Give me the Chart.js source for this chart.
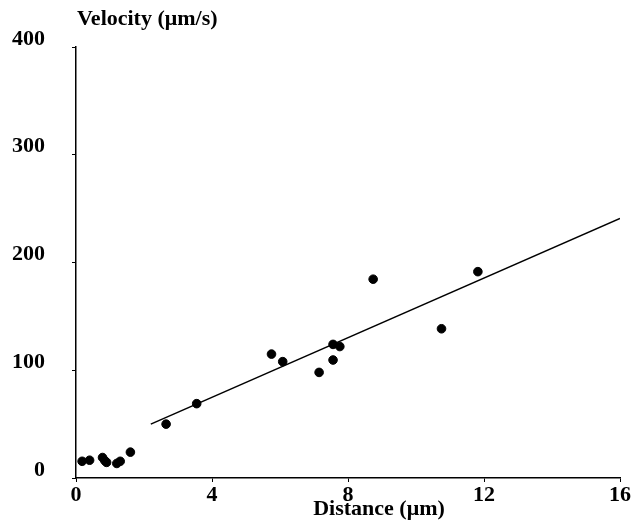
<!DOCTYPE html>
<html>
<head>
<meta charset="utf-8">
<script src="https://cdn.jsdelivr.net/npm/chart.js@4.4.0/dist/chart.umd.min.js"></script>
<style>
  html, body { margin: 0; padding: 0; background: #fff; }
  #wrap { width: 635px; height: 522px; }
</style>
</head>
<body>
<div id="wrap"><canvas id="velocity-chart"></canvas></div>
<script>
// measured points (distance in um, velocity in um/s)
const distance = [0.18, 0.4, 0.78, 0.85, 0.9, 1.2, 1.3, 1.6, 2.65, 3.55, 5.75, 6.08, 7.15, 7.56, 7.56, 7.76, 8.74, 10.75, 11.82];
const velocity = [15.5, 16.5, 19, 16, 14.5, 13.5, 15.5, 24, 50, 69, 115, 108, 98, 124, 109.5, 122, 184.5, 138.5, 191.5];

// fitted line end points
const fitX = [2.2, 16];
const fitY = [50, 241];

const xTicks = [0, 4, 8, 12, 16];
const yTicks = [0, 100, 200, 300, 400];

const FONT = "'Liberation Serif', 'Times New Roman', serif";

// axis titles drawn by hand, the original has them off-centre
const axisTitles = {
  id: "axisTitles",
  afterDraw(chart) {
    const ctx = chart.ctx;
    const area = chart.chartArea;
    ctx.save();
    ctx.fillStyle = "#000";
    ctx.font = "bold 22px " + FONT;
    ctx.textBaseline = "middle";
    ctx.textAlign = "left";
    ctx.fillText("Velocity (μm/s)", area.left + 1, 19);
    ctx.textAlign = "center";
    ctx.fillText("Distance (μm)", area.left + (area.right - area.left) * 0.557, 509);
    ctx.restore();
  }
};

const canvas = document.querySelector("#velocity-chart");
const chart = new Chart(canvas.getContext("2d"), {
  type: "scatter",
  data: {
    datasets: [
      {
        data: distance.map((d, i) => ({ x: d, y: velocity[i] })),
        backgroundColor: "#000",
        borderColor: "#000",
        pointRadius: 4.3,
        pointHoverRadius: 4.3,
      },
      {
        type: "line",
        data: fitX.map((d, i) => ({ x: d, y: fitY[i] })),
        borderColor: "#000",
        borderWidth: 1.5,
        pointRadius: 0,
        fill: false,
      },
    ],
  },
  options: {
    responsive: true,
    maintainAspectRatio: false,
    animation: false,
    layout: {
      padding: { top: 47, right: 15, left: 0, bottom: 0 },
    },
    scales: {
      x: {
        type: "linear",
        min: 0,
        max: 16,
        afterBuildTicks: (axis) => { axis.ticks = xTicks.map(v => ({ value: v })); },
        afterFit: (axis) => { axis.height = 44; },
        border: { display: true, color: "#000", width: 1.5 },
        grid: { display: true, drawOnChartArea: false, drawTicks: true, tickLength: 4, color: "#000" },
        ticks: {
          color: "#000",
          padding: 0,
          font: { family: FONT, size: 22, weight: "bold" },
        },
      },
      y: {
        type: "linear",
        min: 0,
        max: 400,
        afterBuildTicks: (axis) => { axis.ticks = yTicks.map(v => ({ value: v })); },
        afterFit: (axis) => { axis.width = 76; },
        border: { display: true, color: "#000", width: 1.5 },
        grid: { display: true, drawOnChartArea: false, drawTicks: true, tickLength: 4, color: "#000" },
        ticks: {
          color: "#000",
          padding: 27,
          labelOffset: -8,
          font: { family: FONT, size: 22, weight: "bold" },
        },
      },
    },
    plugins: {
      legend: { display: false },
      tooltip: { enabled: false },
    },
  },
  plugins: [axisTitles],
});
</script>
</body>
</html>
